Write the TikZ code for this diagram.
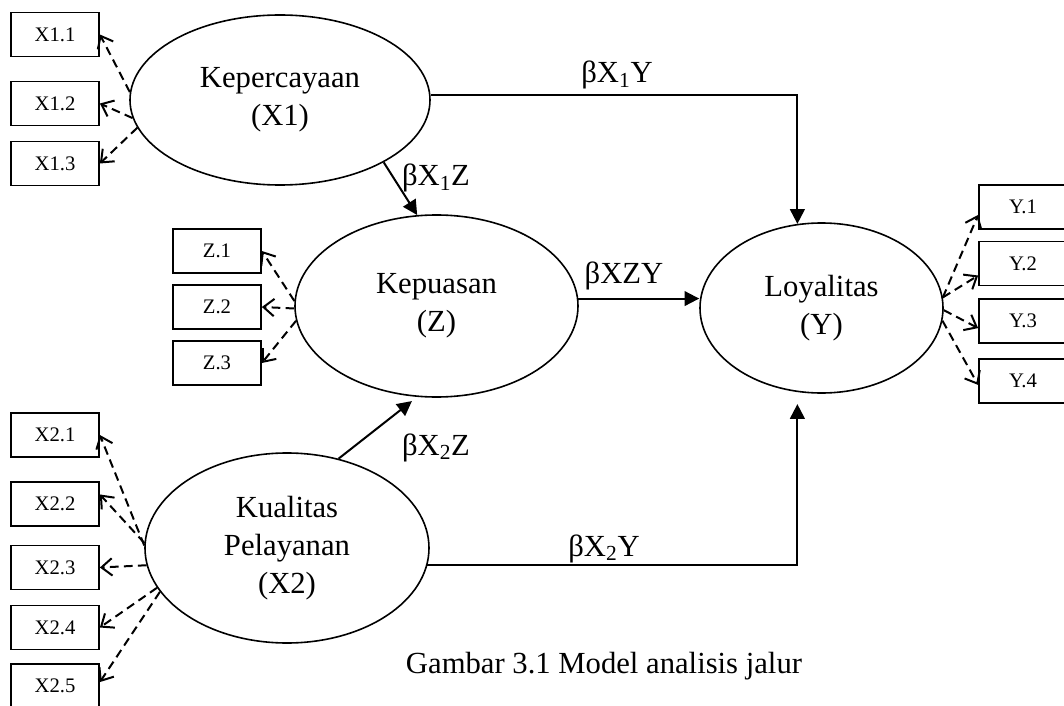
\documentclass[tikz,border=0pt]{standalone}
\usepackage{fontspec}
\setmainfont{Liberation Serif}
\usetikzlibrary{arrows.meta,shapes.geometric,calc}
\begin{document}
\begin{tikzpicture}[x=0.75pt,y=-0.75pt,
  ind/.style={draw, line width=1.3pt, minimum width=66pt, minimum height=33pt, inner sep=0pt, font=\fontsize{15.5}{18}\selectfont},
  lat/.style={draw, ellipse, line width=1.2pt, inner sep=0pt, align=center, font=\fontsize{23}{28.5}\selectfont},
  loadarrow/.style={draw, line width=1.5pt, dash pattern=on 6.5pt off 4pt, -{Straight Barb[length=8pt,width=13pt,line width=1.5pt]}},
  regarrow/.style={draw, line width=1.5pt, -{Triangle[length=11pt,width=11pt]}},
  lbl/.style={inner sep=0pt, anchor=base, font=\fontsize{23}{28}\selectfont}]
\useasboundingbox (0,0) rectangle (1064,706);
% indicator boxes
\node[ind] (x11) at (55,34.5) {X1.1};
\node[ind] (x12) at (55,103.5) {X1.2};
\node[ind] (x13) at (55,163.5) {X1.3};
\node[ind] (z1) at (217,251) {Z.1};
\node[ind] (z2) at (217,307) {Z.2};
\node[ind] (z3) at (217,363) {Z.3};
\node[ind] (y1) at (1023,207) {Y.1};
\node[ind] (y2) at (1023,263.5) {Y.2};
\node[ind] (y3) at (1023,321) {Y.3};
\node[ind] (y4) at (1023,381) {Y.4};
\node[ind] (x21) at (55,435) {X2.1};
\node[ind] (x22) at (55,504) {X2.2};
\node[ind] (x23) at (55,567.5) {X2.3};
\node[ind] (x24) at (55,627.5) {X2.4};
\node[ind] (x25) at (55,686) {X2.5};
% latent variables
\node[lat, minimum width=225pt, minimum height=127.5pt] (x1) at (280,100) {Kepercayaan\\(X1)};
\node[lat, minimum width=212.25pt, minimum height=136.5pt] (z) at (436.5,306) {Kepuasan\\(Z)};
\node[lat, minimum width=182.25pt, minimum height=127.5pt] (y) at (821.5,308) {Loyalitas\\(Y)};
\node[lat, minimum width=213pt, minimum height=142.5pt] (k) at (287,548) {Kualitas\\Pelayanan\\(X2)};
% loadings
\draw[loadarrow] (x1.177) -- (x11.east);
\draw[loadarrow] (x1.187) -- (x12.east);
\draw[loadarrow] (x1.191) -- (x13.east);
\draw[loadarrow] (z.178) -- (z1.east);
\draw[loadarrow] (z.181) -- (z2.east);
\draw[loadarrow] (z.186) -- (z3.east);
\draw[loadarrow] (y.5) -- (y1.190);
\draw[loadarrow] (y.5) -- (y2.195);
\draw[loadarrow] (y.-1) -- (y3.189);
\draw[loadarrow] (y.-6) -- (y4.185);
\draw[loadarrow] (k.179) -- (x21.east);
\draw[loadarrow] (k.178) -- (x22.12);
\draw[loadarrow] (k.187) -- (x23.east);
\draw[loadarrow] (k.197) -- (x24.east);
\draw[loadarrow] (k.199) -- (x25.5);
% paths
\draw[regarrow] (x1.2) -| (y.106);
\draw[regarrow] (x1.-31) -- (z.102);
\draw[regarrow] (z.3) -- (z.3 -| y.west);
\draw[regarrow, shorten >=5pt] (k.60) -- (z.258);
\draw[regarrow, shorten >=9pt] (k.-7) -| (y.254);
% labels
\node[lbl] (l1) at (617,83) {βX\textsubscript{1}Y};
\node[lbl] (l2) at (436,186) {βX\textsubscript{1}Z};
\node[lbl] (l3) at (624,283) {βXZY};
\node[lbl] (l4) at (436,455) {βX\textsubscript{2}Z};
\node[lbl] (l5) at (604,556) {βX\textsubscript{2}Y};
\node[lbl] (cap) at (604,673) {Gambar 3.1 Model analisis jalur};
\end{tikzpicture}
\end{document}
